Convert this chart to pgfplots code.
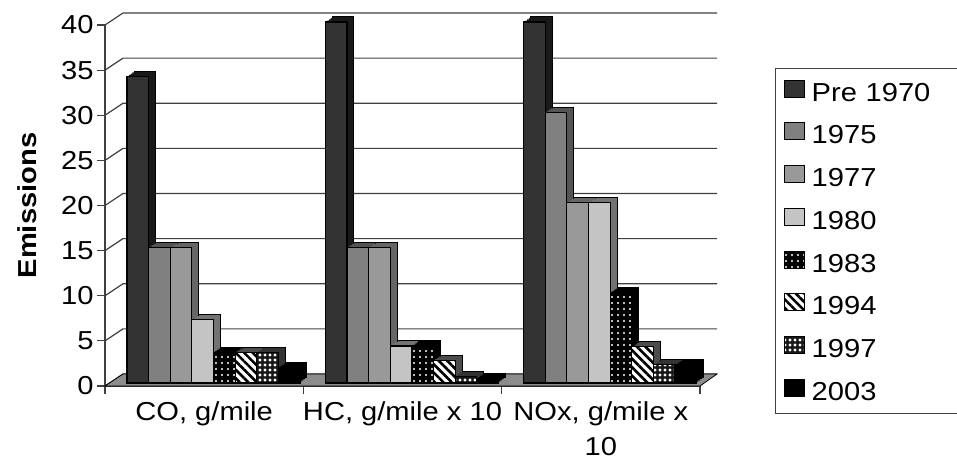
\documentclass[border=0pt]{standalone}
\usepackage{pgfplots}
\pgfplotsset{compat=1.18}
\usepackage{pgfplotstable}
\usetikzlibrary{patterns,patterns.meta}
\usepackage{fontspec}
\setmainfont{Liberation Sans}[FakeStretch=1.12]

\definecolor{gridc}{HTML}{404040}
\definecolor{floorc}{HTML}{8C8C8C}

% category index and values of each series
\pgfplotstableread{
idx  pre  ya   yb   yc   yd   ye   yf    yg
0    34   15   15   7    3.4  3.4  3.4   1.7
1    40   15   15   4.1  4.1  2.5  0.75  0.5
2    40   30   20   20   10   4    2     2
}\data

\pgfplotsset{
  sidebar/.style={ybar, bar width=0.109, bar shift=0pt, forget plot, line width=1pt},
  frontbar/.style={ybar, bar width=0.109, bar shift=0pt, draw=black, line width=1.1pt,
    legend image code/.code={\draw[##1, line width=1.1pt] (0pt,-8.5pt) rectangle (20pt,8.5pt);}},
}

% #1 column, #2 position in group, #3 side colour, #4 front style
\newcommand{\threedbar}[4]{%
  \addplot[sidebar, fill=#3, draw=black, xshift=7pt, yshift=8pt] table[x expr=\thisrow{idx}+0.1655+0.109*#2, y=#1]{\data};
  \addplot[sidebar, fill=#3, draw=none, xshift=5.25pt, yshift=6.75pt] table[x expr=\thisrow{idx}+0.1655+0.109*#2, y=#1]{\data};
  \addplot[sidebar, fill=#3, draw=none, xshift=3.5pt, yshift=5.5pt] table[x expr=\thisrow{idx}+0.1655+0.109*#2, y=#1]{\data};
  \addplot[sidebar, fill=#3, draw=none, xshift=1.75pt, yshift=4.25pt] table[x expr=\thisrow{idx}+0.1655+0.109*#2, y=#1]{\data};
  \addplot[frontbar, #4, yshift=3pt] table[x expr=\thisrow{idx}+0.1655+0.109*#2, y=#1]{\data};
}

\begin{document}
\begin{tikzpicture}
\useasboundingbox (-105pt,-79pt) rectangle (852pt,386pt);
\begin{axis}[
  at={(0pt,0pt)}, anchor=south west,
  scale only axis, width=595pt, height=361pt,
  xmin=0, xmax=3, ymin=0, ymax=40,
  clip=false,
  axis x line*=bottom, axis y line*=left,
  axis line style={draw=gridc, line width=1.2pt},
  ytick={0,5,...,40},
  xtick={0,1,2,3}, xticklabels={},
  extra x ticks={0.5,1.5,2.5},
  extra x tick labels={{CO, g/mile},{HC, g/mile x 10},{NOx, g/mile x\\10}},
  extra x tick style={major tick length=0pt},
  xticklabel style={align=center, font=\fontsize{26}{35}\selectfont, yshift=-12pt},
  yticklabel style={font=\fontsize{26}{31}\selectfont},
  /pgf/number format/assume math mode=true,
  tick align=outside, major tick length=8pt,
  tick style={draw=gridc, line width=1.2pt},
  ylabel={Emissions},
  ylabel style={at={(axis description cs:-0.131,0.5)}, anchor=center, font=\fontsize{26}{31}\selectfont\bfseries},
  legend style={at={(axis description cs:1.126,0.881)}, anchor=north west,
    draw=gridc, line width=1.2pt, row sep=19.2pt, inner xsep=8pt, inner ysep=11pt,
    /tikz/every odd column/.append style={column sep=5pt},
    nodes={font=\fontsize{26}{31}\selectfont, text height=19pt, text depth=0pt, inner sep=2pt, text width=150pt}},
  legend cell align=left,
]
% back wall grid lines with the 3-D depth offset
\pgfplotsinvokeforeach{0,5,...,40}{
  \draw[gridc, line width=1.2pt] (axis cs:0,#1) -- ([shift={(18pt,12pt)}]axis cs:0,#1) -- ([shift={(17pt,12pt)}]axis cs:3,#1);
}
% floor
\filldraw[fill=floorc, draw=black, line width=0.8pt] (axis cs:0,0) -- (axis cs:3,0) -- ([shift={(17pt,12pt)}]axis cs:3,0) -- ([shift={(18pt,12pt)}]axis cs:0,0) -- cycle;

\threedbar{pre}{0}{black!90}{fill=black!80}
\addlegendentry{Pre 1970}
\threedbar{ya}{1}{black!67}{fill=black!50}
\addlegendentry{1975}
\threedbar{yb}{2}{black!60}{fill=black!40}
\addlegendentry{1977}
\threedbar{yc}{3}{black!55}{fill=black!23}
\addlegendentry{1980}
\threedbar{yd}{4}{black}{fill=black, postaction={pattern={Dots[distance=6pt,radius=1.1pt]}, pattern color=white}}
\addlegendentry{1983}
\threedbar{ye}{5}{black!70}{fill=white, postaction={pattern={Lines[angle=-45,distance=6pt,line width=2.6pt]}, pattern color=black}}
\addlegendentry{1994}
\threedbar{yf}{6}{black!80}{fill=black!90, postaction={pattern={Dots[distance=5pt,radius=1.7pt]}, pattern color=white}}
\addlegendentry{1997}
\threedbar{yg}{7}{black}{fill=black}
\addlegendentry{2003}
\end{axis}
\end{tikzpicture}
\end{document}
